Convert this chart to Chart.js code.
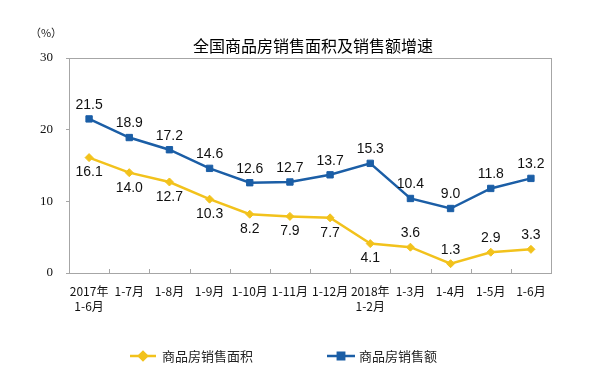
<!DOCTYPE html>
<html><head><meta charset="utf-8">
<script src="https://cdn.jsdelivr.net/npm/chart.js@4/dist/chart.umd.min.js"></script>
<style>html,body{margin:0;padding:0;background:#fff;}#wrap{width:600px;height:387px;position:relative}</style>
</head><body><div id="wrap"><canvas id="c" width="600" height="387"></canvas></div>
<script>
// ---- data ----
const categories = [["2017年","1-6月"],"1-7月","1-8月","1-9月","1-10月","1-11月","1-12月",["2018年","1-2月"],"1-3月","1-4月","1-5月","1-6月"];
const areaGrowth = [16.1,14.0,12.7,10.3,8.2,7.9,7.7,4.1,3.6,1.3,2.9,3.3];
const salesGrowth = [21.5,18.9,17.2,14.6,12.6,12.7,13.7,15.3,10.4,9.0,11.8,13.2];
const areaLabelSide = ["below","below","below","below","below","below","below","below","above","above","above","above"];
const salesLabelSide = ["above","above","above","above","above","above","above","above","above","above","above","above"];
const seriesNames = ["商品房销售面积","商品房销售额"];
const titleText = "全国商品房销售面积及销售额增速";
const unitText = "（%）";
const yMin = 0, yMax = 30, yStep = 10;

// ---- style ----
const YELLOW = "#F2C21C";
const BLUE = "#1B5EA6";
const AXIS = "#a6a6a6";
const CJK = '"Noto Sans CJK SC", "Noto Sans", sans-serif';

const decorPlugin = {
  id: "decor",
  afterDatasetsDraw(chart) {
    const ctx = chart.ctx;
    const ca = chart.chartArea;
    ctx.save();
    // frame
    ctx.strokeStyle = AXIS;
    ctx.lineWidth = 1;
    ctx.strokeRect(Math.round(ca.left) + 0.5, Math.round(ca.top) + 0.5, Math.round(ca.right - ca.left), Math.round(ca.bottom - ca.top));
    // inward category ticks at boundaries
    const xs = chart.scales.x;
    const n = categories.length;
    const half = (xs.getPixelForValue(1) - xs.getPixelForValue(0)) / 2;
    ctx.beginPath();
    for (let i = 0; i <= n; i++) {
      const bx = Math.round(xs.getPixelForValue(Math.min(i, n - 1)) + (i === n ? half : -half)) + 0.5;
      ctx.moveTo(bx, ca.bottom);
      ctx.lineTo(bx, ca.bottom - 4);
    }
    ctx.stroke();

    // data labels
    ctx.font = '14px "Liberation Sans", Arial, sans-serif';
    ctx.fillStyle = "#111";
    ctx.textAlign = "center";
    ctx.textBaseline = "middle";
    const sides = [areaLabelSide, salesLabelSide];
    chart.data.datasets.forEach((ds, di) => {
      const meta = chart.getDatasetMeta(di);
      meta.data.forEach((pt, i) => {
        const side = sides[di][i];
        const dy = side === "above" ? -14 : 15;
        ctx.fillText(ds.data[i].toFixed(1), pt.x, pt.y + dy);
      });
    });

    // title
    ctx.font = '16px ' + CJK;
    ctx.fillStyle = "#000";
    ctx.fillText(titleText, 313, 46);
    // unit
    ctx.font = '11px ' + CJK;
    ctx.fillStyle = "#222";
    ctx.fillText(unitText, 46, 33);

    // legend
    const items = [
      {name: seriesNames[0], color: YELLOW, style: "rectRot", x0: 130, x1: 156, tx: 162},
      {name: seriesNames[1], color: BLUE, style: "rect", x0: 327, x1: 355, tx: 359}
    ];
    const ly = 356;
    items.forEach(it => {
      ctx.strokeStyle = it.color;
      ctx.lineWidth = 2.5;
      ctx.beginPath();
      ctx.moveTo(it.x0, ly);
      ctx.lineTo(it.x1, ly);
      ctx.stroke();
      ctx.fillStyle = it.color;
      Chart.helpers.drawPoint(ctx, {pointStyle: it.style, radius: it.style === "rect" ? 4.5 : 4, rotation: 0, borderWidth: 1}, (it.x0 + it.x1) / 2, ly);
      ctx.font = '13px ' + CJK;
      ctx.fillStyle = "#222";
      ctx.textAlign = "left";
      ctx.fillText(it.name, it.tx, ly);
    });
    ctx.restore();
  }
};

new Chart(document.getElementById("c"), {
  type: "line",
  data: {
    labels: categories,
    datasets: [
      {label: seriesNames[0], data: areaGrowth, borderColor: YELLOW, backgroundColor: YELLOW,
       borderWidth: 2.5, pointStyle: "rectRot", pointRadius: 4, pointBorderWidth: 1, tension: 0},
      {label: seriesNames[1], data: salesGrowth, borderColor: BLUE, backgroundColor: BLUE,
       borderWidth: 2.5, pointStyle: "rect", pointRadius: 4.5, pointBorderWidth: 1, tension: 0}
    ]
  },
  options: {
    responsive: false,
    animation: false,
    devicePixelRatio: 1,
    layout: {padding: {left: 0, right: 49, top: 58, bottom: 0}},
    plugins: {legend: {display: false}, title: {display: false}, tooltip: {enabled: false}},
    scales: {
      x: {
        offset: true,
        grid: {display: true, drawOnChartArea: false, drawTicks: false, offset: true, color: AXIS},
        border: {display: false},
        ticks: {font: {family: CJK, size: 12, lineHeight: 1.25}, color: "#111", padding: 11, maxRotation: 0, autoSkip: false},
        afterFit(s) { s.height = 114; s.paddingLeft = 0; s.paddingRight = 0; }
      },
      y: {
        min: yMin, max: yMax,
        grid: {drawOnChartArea: false, drawTicks: true, tickLength: 3, color: AXIS},
        border: {display: false},
        ticks: {stepSize: yStep, font: {family: '"Liberation Serif", serif', size: 13}, color: "#111", padding: 13},
        afterFit(s) { s.width = 69; s.paddingTop = 0; s.paddingBottom = 0; }
      }
    }
  },
  plugins: [decorPlugin]
});
</script>
</body></html>
